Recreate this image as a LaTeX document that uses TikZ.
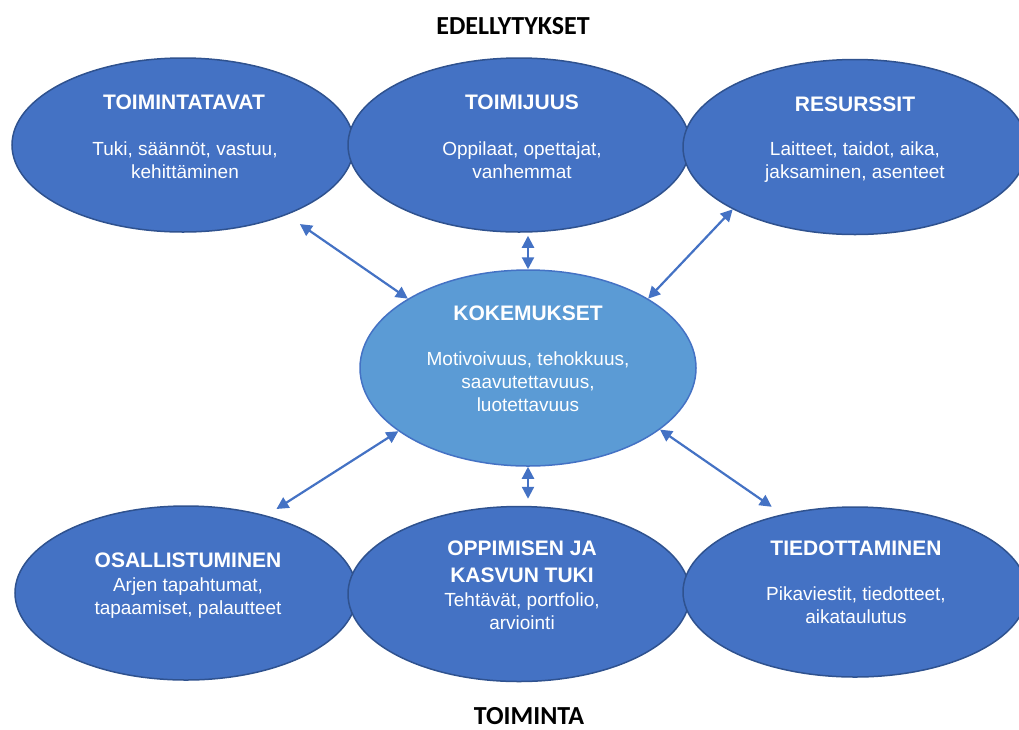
\documentclass[tikz,border=0pt]{standalone}
\usepackage{fontspec}
\setmainfont{Liberation Sans}
\newfontfamily\hdrfont{Carlito}
\usepackage{tikz}
\usetikzlibrary{shapes.geometric}
\usetikzlibrary{arrows.meta}
\usepackage{xcolor}
\definecolor{ColA}{RGB}{68,114,196}
\definecolor{ColB}{RGB}{47,82,143}
\definecolor{ColC}{RGB}{91,155,213}
\tikzstyle{BlobNode}=[ellipse,draw=ColB,fill=ColA,line width=1.5pt,inner sep=0pt]
\tikzstyle{CoreNode}=[ellipse,draw=ColA,fill=ColC,line width=1.5pt,inner sep=0pt]
\tikzstyle{TitleText}=[text=white,align=center,font=\fontsize{21}{27}\selectfont\bfseries]
\tikzstyle{BodyText}=[text=white,align=center,font=\fontsize{19}{23}\selectfont]
\tikzstyle{HeadText}=[text=black,inner sep=2pt,text depth=0pt,font=\hdrfont\fontsize{26}{30}\selectfont\bfseries]
\tikzstyle{LinkArrow}=[ColA,line width=2.2pt,{Triangle[length=12pt,width=12pt]}-{Triangle[length=12pt,width=12pt]}]

\begin{document}
\begin{tikzpicture}[x=1pt,y=-1pt]
        \useasboundingbox(0,0)rectangle(1019,729);
        % top row
        \node[BlobNode,minimum width=342pt,minimum height=174pt](toim)at(183,145){};
        \node[BlobNode,minimum width=342pt,minimum height=174pt](toimij)at(519,145){};
        \node[BlobNode,minimum width=344pt,minimum height=175pt](res)at(855,147){};
        % centre
        \node[CoreNode,minimum width=336pt,minimum height=196pt](kok)at(528,368){};
        % bottom row
        \node[BlobNode,minimum width=342pt,minimum height=174pt](osall)at(186,593){};
        \node[BlobNode,minimum width=342pt,minimum height=175pt](oppim)at(519,594){};
        \node[BlobNode,minimum width=344pt,minimum height=170pt](tied)at(855,592){};
        % texts
        \node[HeadText](edel)at(513,26){EDELLYTYKSET};
        \node[HeadText](toiminta)at(529,716){TOIMINTA};
        \node[TitleText](toimT)at(184,102){TOIMINTATAVAT};
        \node[BodyText](toimB)at(185,160){Tuki, säännöt, vastuu,\\kehittäminen};
        \node[TitleText](toimijT)at(522,102){TOIMIJUUS};
        \node[BodyText](toimijB)at(522,160){Oppilaat, opettajat,\\vanhemmat};
        \node[TitleText](resT)at(855,104){RESURSSIT};
        \node[BodyText](resB)at(855,162){Laitteet, taidot, aika,\\jaksaminen, asenteet};
        \node[TitleText](kokT)at(528,313){KOKEMUKSET};
        \node[BodyText](kokB)at(528,382){Motivoivuus, tehokkuus,\\saavutettavuus,\\luotettavuus};
        \node[TitleText](osallT)at(188,560){OSALLISTUMINEN};
        \node[BodyText](osallB)at(188,598){Arjen tapahtumat,\\tapaamiset, palautteet};
        \node[TitleText](oppimT)at(522,562){OPPIMISEN JA\\KASVUN TUKI};
        \node[BodyText](oppimB)at(522,611){Tehtävät, portfolio,\\arviointi};
        \node[TitleText](tiedT)at(856,548){TIEDOTTAMINEN};
        \node[BodyText](tiedB)at(856,605){Pikaviestit, tiedotteet,\\aikataulutus};
        % arrows
        \draw[LinkArrow,shorten >=16pt](kok.150)--(toim.-34);
        \draw[LinkArrow,shorten >=3pt](kok.north)--(kok.north|-toimij.south);
        \draw[LinkArrow](kok.30)--(res.207);
        \draw[LinkArrow,shorten >=12pt](kok.206)--(osall.44);
        \draw[LinkArrow,shorten >=7pt](kok.south)--(kok.south|-oppim.north);
        \draw[LinkArrow,shorten >=13pt](kok.-25)--(tied.133);
    \end{tikzpicture}
\end{document}
